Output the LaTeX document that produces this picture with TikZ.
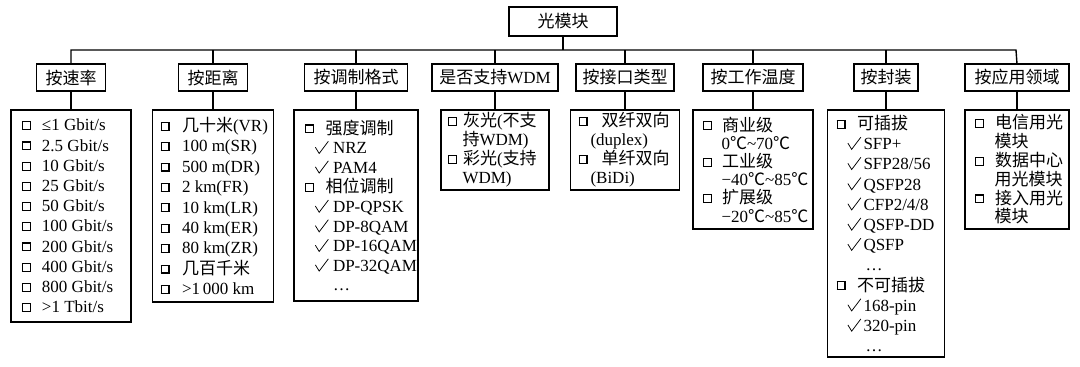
\documentclass[tikz,border=0pt]{standalone}
\usepackage{fontspec}
\setmainfont{Liberation Serif}
\newfontfamily\cjk{Noto Sans CJK SC}
\newcommand\zh[1]{{\cjk #1}}
\newcommand\sq{\raisebox{1.8bp}{\setlength\fboxsep{0pt}\setlength\fboxrule{1.1bp}\fbox{\rule{0pt}{6.8bp}\rule{6.8bp}{0pt}}}}
\newcommand\ckm[1]{\makebox[#1][l]{\tikz[x=1bp,y=1bp,baseline=0pt]\draw[line width=0.75bp,line join=miter,line cap=butt] (0,6.5) -- (3.8,0.3) -- (13,12.5);}}
\newcommand\tl{\textasciitilde}
\tikzset{
  every node/.style={inner sep=0pt, outer sep=0pt},
  hbox/.style={draw, line width=1.6bp, fill=white, font=\fontsize{17bp}{20bp}\selectfont},
  lbox/.style={draw, line width=1.6bp},
  itemlist/.style={align=left, anchor=west, font=\fontsize{17bp}{#1}\selectfont},
  itemlist/.default=20.2bp,
  link/.style={line width=1.4bp},
}
\begin{document}
\begin{tikzpicture}[x=1bp,y=-1bp]
\useasboundingbox (0,0) rectangle (1080,366);
% top
\node[hbox, minimum width=108bp, minimum height=29bp] (top) at (563,21.5) {\zh{光模块}};
\coordinate (busL) at (71,50);
\coordinate (busR) at (1016,50);
% level 2
\node[hbox, minimum width=69bp,  minimum height=27bp] (h1) at (71,77.5)   {\zh{按速率}};
\node[hbox, minimum width=69bp,  minimum height=27bp] (h2) at (213,77.5)  {\zh{按距离}};
\node[hbox, minimum width=103bp, minimum height=27bp] (h3) at (356,77.5)  {\zh{按调制格式}};
\node[hbox, minimum width=126bp, minimum height=27bp] (h4) at (495,77.5)  {\zh{是否支持}WDM};
\node[hbox, minimum width=98bp,  minimum height=27bp] (h5) at (625,77.5)  {\zh{按接口类型}};
\node[hbox, minimum width=100bp, minimum height=27bp] (h6) at (753,77.5)  {\zh{按工作温度}};
\node[hbox, minimum width=64bp,  minimum height=27bp] (h7) at (886,77.5)  {\zh{按封装}};
\node[hbox, minimum width=104bp, minimum height=27bp] (h8) at (1017,77.5) {\zh{按应用领域}};
% level 3 boxes
\node[lbox, minimum width=120bp, minimum height=212bp] (b1) at (71,216) {};
\node[lbox, minimum width=121bp, minimum height=192bp] (b2) at (213,206) {};
\node[lbox, minimum width=124bp, minimum height=191bp] (b3) at (356,205.5) {};
\node[lbox, minimum width=108bp, minimum height=80bp]  (b4) at (495,150) {};
\node[lbox, minimum width=109bp, minimum height=80bp]  (b5) at (625,150) {};
\node[lbox, minimum width=120bp, minimum height=119bp] (b6) at (753,169.5) {};
\node[lbox, minimum width=117bp, minimum height=247bp] (b7) at (886,233.5) {};
\node[lbox, minimum width=104bp, minimum height=119bp] (b8) at (1017,169.5) {};
% connectors
\draw[link] (top.south) -- (top.south |- busL);
\draw[link] (h1.north) -- (busL) -- (busR) -- (h8.north);
\foreach \i in {2,...,7} {\draw[link] (h\i.north) -- (h\i.north |- busL);}
\foreach \i in {1,...,8} {\draw[link] (h\i.south) -- (h\i.south |- b\i.north);}
% box texts
\node[itemlist=20.2bp] (t1) at ([xshift=11bp]b1.west) {%
\sq\hspace{11bp}≤1 Gbit/s\\
\sq\hspace{11bp}2.5 Gbit/s\\
\sq\hspace{11bp}10 Gbit/s\\
\sq\hspace{11bp}25 Gbit/s\\
\sq\hspace{11bp}50 Gbit/s\\
\sq\hspace{11bp}100 Gbit/s\\
\sq\hspace{11bp}200 Gbit/s\\
\sq\hspace{11bp}400 Gbit/s\\
\sq\hspace{11bp}800 Gbit/s\\
\sq\hspace{11bp}>1 Tbit/s};
\node[itemlist=20.4bp] (t2) at ([xshift=8bp]b2.west) {%
\sq\hspace{12.5bp}\zh{几十米}(VR)\\
\sq\hspace{12.5bp}100 m(SR)\\
\sq\hspace{12.5bp}500 m(DR)\\
\sq\hspace{12.5bp}2 km(FR)\\
\sq\hspace{12.5bp}10 km(LR)\\
\sq\hspace{12.5bp}40 km(ER)\\
\sq\hspace{12.5bp}80 km(ZR)\\
\sq\hspace{12.5bp}\zh{几百千米}\\
\sq\hspace{12.5bp}>1\,000 km};
\node[itemlist=19.6bp] (t3) at ([xshift=11bp]b3.west) {%
\sq\hspace{11.5bp}\zh{强度调制}\\
\hspace{10bp}\ckm{18bp}NRZ\\
\hspace{10bp}\ckm{18bp}PAM4\\
\sq\hspace{11.5bp}\zh{相位调制}\\
\hspace{10bp}\ckm{18bp}DP-QPSK\\
\hspace{10bp}\ckm{18bp}DP-8QAM\\
\hspace{10bp}\ckm{18bp}DP-16QAM\\
\hspace{10bp}\ckm{18bp}DP-32QAM\\
\hspace{28bp}…};
\node[itemlist=19bp] (t4) at ([xshift=7bp]b4.west) {%
\sq\hspace{6bp}\zh{灰光}(\zh{不支}\\
\hspace{14.5bp}\zh{持}WDM)\\
\sq\hspace{6bp}\zh{彩光}(\zh{支持}\\
\hspace{14.5bp}WDM)};
\node[itemlist=19bp] (t5) at ([xshift=8bp]b5.west) {%
\sq\hspace{14bp}\zh{双纤双向}\\
\hspace{12bp}(duplex)\\
\sq\hspace{14bp}\zh{单纤双向}\\
\hspace{12bp}(BiDi)};
\node[itemlist=18.2bp] (t6) at ([xshift=10bp]b6.west) {%
\sq\hspace{10bp}\zh{商业级}\\
\hspace{18.5bp}0\zh{℃}\tl 70\zh{℃}\\
\sq\hspace{10bp}\zh{工业级}\\
\hspace{18.5bp}−40\zh{℃}\tl 85\zh{℃}\\
\sq\hspace{10bp}\zh{扩展级}\\
\hspace{18.5bp}−20\zh{℃}\tl 85\zh{℃}};
\node[itemlist=20.2bp] (t7) at ([xshift=9bp]b7.west) {%
\sq\hspace{11.5bp}\zh{可插拔}\\
\hspace{11bp}\ckm{16bp}SFP+\\
\hspace{11bp}\ckm{16bp}SFP28/56\\
\hspace{11bp}\ckm{16bp}QSFP28\\
\hspace{11bp}\ckm{16bp}CFP2/4/8\\
\hspace{11bp}\ckm{16bp}QSFP-DD\\
\hspace{11bp}\ckm{16bp}QSFP\\
\hspace{29bp}…\\
\sq\hspace{11.5bp}\zh{不可插拔}\\
\hspace{11bp}\ckm{16bp}168-pin\\
\hspace{11bp}\ckm{16bp}320-pin\\
\hspace{29bp}…};
\node[itemlist=18.8bp] (t8) at ([xshift=10bp]b8.west) {%
\sq\hspace{11bp}\zh{电信用光}\\
\hspace{19.5bp}\zh{模块}\\
\sq\hspace{11bp}\zh{数据中心}\\
\hspace{19.5bp}\zh{用光模块}\\
\sq\hspace{11bp}\zh{接入用光}\\
\hspace{19.5bp}\zh{模块}};
\end{tikzpicture}
\end{document}
